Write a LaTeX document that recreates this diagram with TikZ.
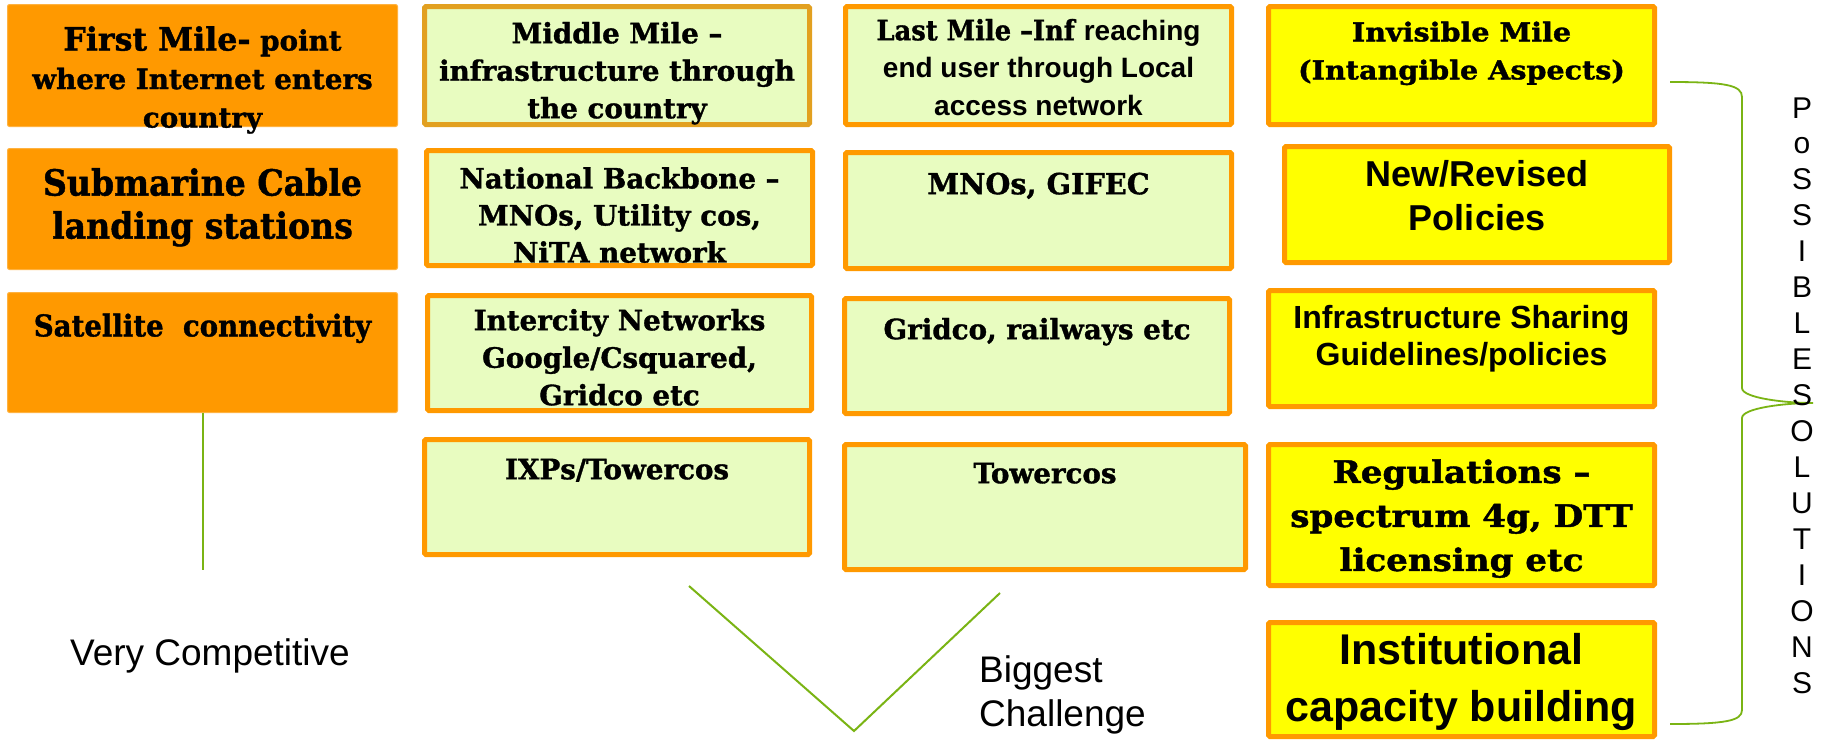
\documentclass[tikz,border=0pt]{standalone}
\usepackage{fontspec}
\setmainfont{Liberation Sans}
\newfontfamily\slabfont[FakeStretch=0.92, FakeBold=1.2]{DejaVu Serif}
\newfontfamily\slabmidfont[FakeStretch=0.99, FakeBold=1.2]{DejaVu Serif}
\newfontfamily\wideslabfont[FakeStretch=1.1, FakeBold=1.4]{DejaVu Serif}
\usetikzlibrary{positioning}

\definecolor{cellorange}{RGB}{255,153,0}
\definecolor{cellgreen}{RGB}{232,252,192}
\definecolor{cellyellow}{RGB}{255,255,0}
\definecolor{darkgold}{RGB}{226,160,32}
\definecolor{linkgreen}{RGB}{122,180,20}

\tikzset{
  firstcell/.style={draw=cellorange!75!white, fill=cellorange, line width=1pt, rounded corners=2pt, inner sep=0pt, outer sep=0pt},
  midcell/.style={draw=cellorange, fill=cellgreen, line width=5pt, rounded corners=1.5pt, inner sep=0pt, outer sep=0pt},
  solcell/.style={draw=cellorange, fill=cellyellow, line width=5pt, rounded corners=1.5pt, inner sep=0pt, outer sep=0pt},
  celltext/.style={anchor=north, inner sep=0pt, align=center, execute at begin node=\strut},
  slab/.style 2 args={font=\slabfont\bfseries\fontsize{#1}{#2}\selectfont},
  slabmid/.style 2 args={font=\slabmidfont\bfseries\fontsize{#1}{#2}\selectfont},
  wideslab/.style 2 args={font=\wideslabfont\bfseries\fontsize{#1}{#2}\selectfont},
  sansbold/.style 2 args={font=\bfseries\fontsize{#1}{#2}\selectfont},
  plainlabel/.style={inner sep=0pt, font=\fontsize{37}{44}\selectfont},
  linkline/.style={draw=linkgreen, line width=2pt},
}

\begin{document}
\begin{tikzpicture}[x=1pt, y=-1pt]
  \path[use as bounding box, fill=white] (0,0) rectangle (1823,740);

  % first mile column
  \node[firstcell, minimum width=390pt, minimum height=122pt] (first) at (202.5,65.5) {};
  \node[firstcell, minimum width=390pt, minimum height=121pt] (submarine) at (202.5,209) {};
  \node[firstcell, minimum width=390pt, minimum height=120pt] (satellite) at (202.5,352.5) {};
  \node[celltext, slabmid={28}{38.5}] at (202.5,26) {{\fontsize{32}{38.5}\selectfont First Mile-} point\\where Internet enters\\country};
  \node[celltext, slab={36}{43}] at (202.5,168) {Submarine Cable\\landing stations};
  \node[celltext, slab={30}{36}] at (202.5,311) {Satellite\ \ connectivity};

  % middle mile column
  \node[midcell, draw=darkgold, minimum width=385pt, minimum height=118pt] (middle) at (617,65.5) {};
  \node[midcell, minimum width=386pt, minimum height=115pt] (backbone) at (619.5,208) {};
  \node[midcell, minimum width=384pt, minimum height=115pt] (intercity) at (619.5,353) {};
  \node[midcell, minimum width=385pt, minimum height=115pt] (ixp) at (617,497) {};
  \node[celltext, slabmid={28}{37.5}] at (617,21.75) {Middle Mile –\\infrastructure through\\the country};
  \node[celltext, slabmid={28}{37}] at (619.5,167) {National Backbone –\\MNOs, Utility cos,\\NiTA network};
  \node[celltext, slabmid={28}{37.5}] at (619.5,308.75) {Intercity Networks\\Google/Csquared,\\Gridco etc};
  \node[celltext, slabmid={28}{37.5}] at (617,452.75) {IXPs/Towercos};

  % last mile column
  \node[midcell, minimum width=386pt, minimum height=118pt] (last) at (1038.5,65.5) {};
  \node[midcell, minimum width=386pt, minimum height=116pt] (mnos) at (1038.5,210.5) {};
  \node[midcell, minimum width=385pt, minimum height=115pt] (gridco) at (1037,356) {};
  \node[midcell, minimum width=401pt, minimum height=125pt] (towercos) at (1045,507) {};
  \node[celltext, slab={28}{37.5}] at (1038.5,18.75) {Last Mile –Inf {\normalfont\bfseries reaching}\\{\normalfont\bfseries end user through Local}\\{\normalfont\bfseries access network}};
  \node[celltext, slabmid={29}{37.5}] at (1038.5,167.75) {MNOs, GIFEC};
  \node[celltext, slabmid={28}{37.5}] at (1037,312.75) {Gridco, railways etc};
  \node[celltext, slabmid={28}{37.5}] at (1045,456.75) {Towercos};

  % invisible mile column
  \node[solcell, minimum width=386pt, minimum height=118pt] (invisible) at (1461.5,65.5) {};
  \node[solcell, minimum width=385pt, minimum height=116pt] (policies) at (1477,204.5) {};
  \node[solcell, minimum width=386pt, minimum height=116pt] (sharing) at (1461.5,348.5) {};
  \node[solcell, minimum width=386pt, minimum height=141pt] (regulations) at (1461.5,515) {};
  \node[solcell, minimum width=386pt, minimum height=114pt] (capacity) at (1461.5,679.5) {};
  \node[celltext, wideslab={26}{38}] at (1461.5,21.4) {Invisible Mile\\(Intangible Aspects)};
  \node[celltext, sansbold={36}{44}] at (1477,160.2) {New/Revised\\Policies};
  \node[celltext, sansbold={32}{37}] at (1461.5,305.1) {Infrastructure Sharing\\Guidelines/policies};
  \node[celltext, wideslab={31}{44}] at (1461.5,459.2) {Regulations –\\spectrum 4g, DTT\\licensing etc};
  \node[celltext, sansbold={43}{57}] at (1461.5,633.1) {Institutional\\capacity building};

  % comments under the columns
  \coordinate (stemend) at (202.5,570);
  \draw[linkline] (satellite.south) -- (stemend);
  \node[plainlabel, anchor=base] (competitive) at (210,665) {Very Competitive};
  \coordinate (vleft) at (689,586); \coordinate (vtip) at (854,731); \coordinate (vright) at (1000,593);
  \draw[linkline] (vleft) -- (vtip) -- (vright);
  \node[plainlabel, anchor=north west, align=left, execute at begin node=\strut] (challenge) at (979,655.2) {Biggest\\Challenge};

  % brace and vertical word
  \coordinate (bracetop) at (1670,82); \coordinate (bracetip) at (1813,403); \coordinate (bracebot) at (1670,724);
  \draw[linkline, line width=1.8pt] (bracetop) .. controls (1725,82) and (1742,85) .. (1742,97) -- (1742,388)
    .. controls (1742,398) and (1785,403) .. (bracetip)
    .. controls (1785,403) and (1742,408) .. (1742,418) -- (1742,710)
    .. controls (1742,721) and (1725,724) .. (bracebot);
  \foreach \ch [count=\i] in {P,o,S,S,I,B,L,E,S,O,L,U,T,I,O,N,S}
    \node[inner sep=0pt, anchor=base, font=\fontsize{30}{36}\selectfont] (sol\i) at (1802,{118+(\i-1)*35.94}) {\ch};
\end{tikzpicture}
\end{document}
